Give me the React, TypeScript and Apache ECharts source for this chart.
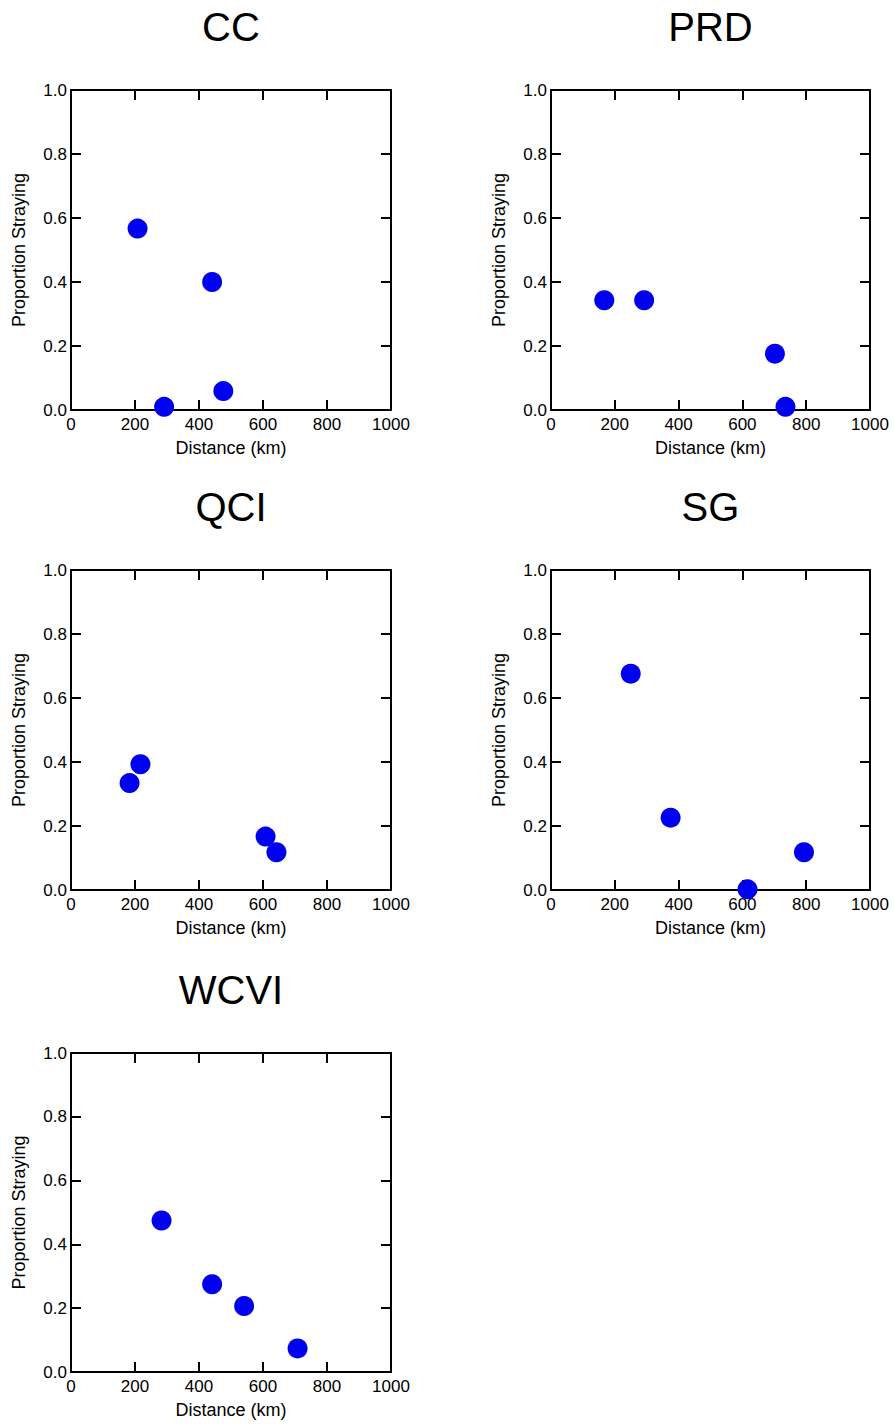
import React, { useEffect, useRef } from "react";
import * as echarts from "echarts";

const panelNames = ["CC", "PRD", "QCI", "SG", "WCVI"];
const ccPoints = [[208, 0.567], [441, 0.4], [291, 0.01], [476, 0.059]];
const prdPoints = [[167, 0.343], [292, 0.343], [702, 0.176], [735, 0.01]];
const qciPoints = [[183, 0.334], [217, 0.393], [608, 0.167], [642, 0.118]];
const sgPoints = [[250, 0.676], [375, 0.226], [616, 0.002], [793, 0.118]];
const wcviPoints = [[283, 0.475], [441, 0.275], [541, 0.207], [708, 0.074]];
const panelData = [ccPoints, prdPoints, qciPoints, sgPoints, wcviPoints];

const xTicks = { min: 0, max: 1000, interval: 200 };
const yTicks = { min: 0, max: 1, interval: 0.2 };
const xName = "Distance (km)";
const yName = "Proportion Straying";

const gridBoxes = [
  { left: 71, top: 90, width: 320, height: 320 },
  { left: 551, top: 90, width: 319, height: 320 },
  { left: 71, top: 570, width: 320, height: 320 },
  { left: 551, top: 570, width: 319, height: 320 },
  { left: 71, top: 1053, width: 320, height: 319 },
];

const FONT = "Liberation Sans, Arial, sans-serif";

export default function App() {
  const ref = useRef<HTMLDivElement>(null);
  useEffect(() => {
    if (!ref.current) return;
    const chart = echarts.init(ref.current, null, { renderer: "svg" });
    const lineStyle = { color: "#000", width: 2 };
    const grids: any[] = [];
    const xAxes: any[] = [];
    const yAxes: any[] = [];
    const series: any[] = [];
    const graphics: any[] = [];
    gridBoxes.forEach((g, i) => {
      grids.push({ ...g, containLabel: false });
      const baseX = {
        type: "value",
        gridIndex: i,
        min: xTicks.min,
        max: xTicks.max,
        interval: xTicks.interval,
        axisLine: { show: true, onZero: false, lineStyle },
        axisTick: { show: true, inside: true, length: 10, lineStyle },
        splitLine: { show: false },
      };
      xAxes.push({
        ...baseX,
        position: "bottom",
        name: xName,
        nameLocation: "middle",
        nameGap: 29,
        nameTextStyle: { fontFamily: FONT, fontSize: 18, color: "#000" },
        axisLabel: {
          show: true,
          fontFamily: FONT,
          fontSize: 17,
          color: "#000",
          margin: 6,
          formatter: (v: number) => String(v),
        },
      });
      xAxes.push({ ...baseX, position: "top", axisLabel: { show: false } });
      const baseY = {
        type: "value",
        gridIndex: i,
        min: yTicks.min,
        max: yTicks.max,
        interval: yTicks.interval,
        axisLine: { show: true, onZero: false, lineStyle },
        axisTick: { show: true, inside: true, length: 10, lineStyle },
        splitLine: { show: false },
      };
      yAxes.push({
        ...baseY,
        position: "left",
        name: yName,
        nameLocation: "middle",
        nameGap: 43,
        nameTextStyle: { fontFamily: FONT, fontSize: 18, color: "#000" },
        axisLabel: {
          show: true,
          fontFamily: FONT,
          fontSize: 17,
          color: "#000",
          margin: 4,
          formatter: (v: number) => v.toFixed(1),
        },
      });
      yAxes.push({ ...baseY, position: "right", axisLabel: { show: false } });
      series.push({
        type: "scatter",
        xAxisIndex: i * 2,
        yAxisIndex: i * 2,
        data: panelData[i],
        symbol: "circle",
        symbolSize: 20,
        itemStyle: { color: "#0000F0", opacity: 1 },
        clip: false,
        z: 5,
      });
      graphics.push({
        type: "text",
        x: g.left + g.width / 2,
        y: g.top - 63,
        style: {
          text: panelNames[i],
          fontFamily: FONT,
          fontSize: 40,
          fill: "#000",
          textAlign: "center",
          textVerticalAlign: "middle",
        },
      });
    });
    chart.setOption({
      animation: false,
      backgroundColor: "#fff",
      grid: grids,
      xAxis: xAxes,
      yAxis: yAxes,
      series,
      graphic: graphics,
    });
    return () => chart.dispose();
  }, []);
  return (
    <div
      ref={ref}
      style={{ position: "absolute", left: 0, top: 0, width: 895, height: 1424 }}
    />
  );
}
